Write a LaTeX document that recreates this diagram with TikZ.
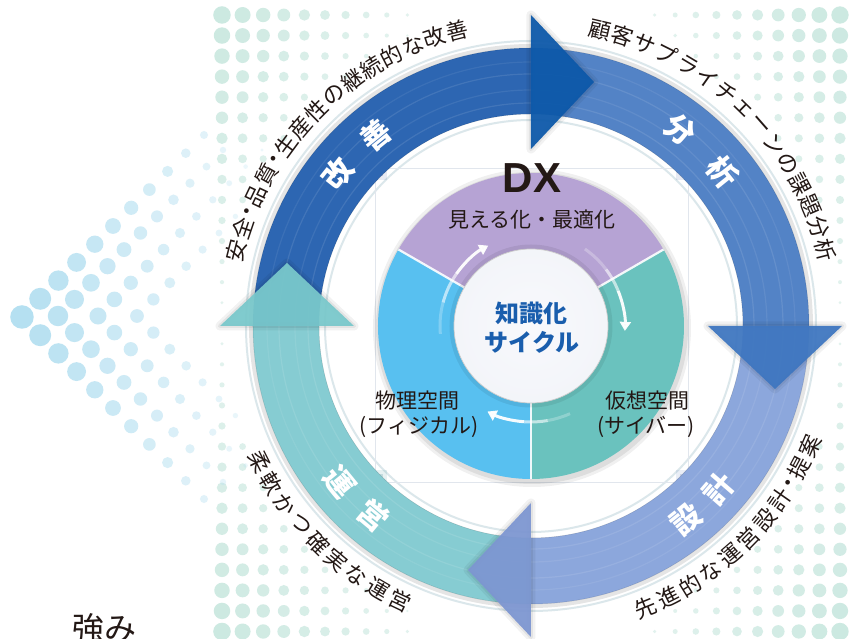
\documentclass[tikz,border=0pt]{standalone}
\usepackage{fontspec}
\newfontfamily\jp{Noto Sans CJK JP}
\newfontfamily\lat{Liberation Sans}
\usetikzlibrary{arrows.meta,calc}

\definecolor{txt}{HTML}{231815}
\definecolor{cblue}{HTML}{1A5EAD}
\definecolor{mint}{HTML}{CCE9E1}
\definecolor{sky}{HTML}{B5E0F1}
\definecolor{headA}{HTML}{0C58A9}
\definecolor{headB}{HTML}{3E76C0}
\definecolor{headC}{HTML}{7D96D1}
\definecolor{headD}{HTML}{79C8CB}
\definecolor{navyA}{HTML}{1A3A8A}
\definecolor{tealD}{HTML}{1B7C84}
\definecolor{blueD}{HTML}{3A5FB0}
\definecolor{framec}{HTML}{E1E6ED}

\pgfdeclareradialshading{kaizenR}{\pgfpointorigin}{color(0bp)=(rgb,255:red,45;green,102;blue,178); color(38.13bp)=(rgb,255:red,45;green,102;blue,178); color(39.5bp)=(rgb,255:red,60;green,118;blue,190); color(41bp)=(rgb,255:red,82;green,134;blue,200); color(42bp)=(rgb,255:red,74;green,128;blue,196); color(43.5bp)=(rgb,255:red,101;green,150;blue,208); color(45bp)=(rgb,255:red,92;green,143;blue,204); color(46.5bp)=(rgb,255:red,74;green,127;blue,195); color(48.5bp)=(rgb,255:red,46;green,102;blue,177); color(50bp)=(rgb,255:red,27;green,86;blue,164)}
\pgfdeclareradialshading{bunsekiR}{\pgfpointorigin}{color(0bp)=(rgb,255:red,83;green,131;blue,198); color(38.13bp)=(rgb,255:red,83;green,131;blue,198); color(39.5bp)=(rgb,255:red,106;green,147;blue,207); color(41bp)=(rgb,255:red,127;green,163;blue,215); color(42bp)=(rgb,255:red,116;green,156;blue,211); color(43.5bp)=(rgb,255:red,142;green,176;blue,221); color(45bp)=(rgb,255:red,134;green,170;blue,218); color(46.5bp)=(rgb,255:red,110;green,150;blue,208); color(48.5bp)=(rgb,255:red,79;green,128;blue,196); color(50bp)=(rgb,255:red,58;green,109;blue,183)}
\pgfdeclareradialshading{sekkeiR}{\pgfpointorigin}{color(0bp)=(rgb,255:red,140;green,167;blue,220); color(38.13bp)=(rgb,255:red,140;green,167;blue,220); color(39.5bp)=(rgb,255:red,161;green,183;blue,228); color(41bp)=(rgb,255:red,178;green,196;blue,234); color(42bp)=(rgb,255:red,169;green,189;blue,231); color(43.5bp)=(rgb,255:red,186;green,203;blue,236); color(45bp)=(rgb,255:red,176;green,195;blue,233); color(46.5bp)=(rgb,255:red,157;green,180;blue,226); color(48.5bp)=(rgb,255:red,132;green,160;blue,216); color(50bp)=(rgb,255:red,110;green,143;blue,206)}
\pgfdeclareradialshading{uneiR}{\pgfpointorigin}{color(0bp)=(rgb,255:red,134;green,204;blue,210); color(38.13bp)=(rgb,255:red,134;green,204;blue,210); color(39.5bp)=(rgb,255:red,150;green,211;blue,216); color(41bp)=(rgb,255:red,163;green,217;blue,221); color(42bp)=(rgb,255:red,156;green,214;blue,218); color(43.5bp)=(rgb,255:red,170;green,220;blue,224); color(45bp)=(rgb,255:red,162;green,216;blue,220); color(46.5bp)=(rgb,255:red,146;green,208;blue,213); color(48.5bp)=(rgb,255:red,122;green,197;blue,204); color(50bp)=(rgb,255:red,98;green,184;blue,193)}
\pgfdeclareradialshading{purpleR}{\pgfpointorigin}{color(0bp)=(rgb,255:red,182;green,163;blue,212); color(25bp)=(rgb,255:red,182;green,163;blue,212); color(38bp)=(rgb,255:red,166;green,145;blue,200); color(46bp)=(rgb,255:red,150;green,129;blue,190); color(50bp)=(rgb,255:red,134;green,115;blue,180)}
\pgfdeclareradialshading{tealR}{\pgfpointorigin}{color(0bp)=(rgb,255:red,106;green,194;blue,190); color(25bp)=(rgb,255:red,106;green,194;blue,190); color(38bp)=(rgb,255:red,90;green,183;blue,181); color(46bp)=(rgb,255:red,72;green,167;blue,172); color(50bp)=(rgb,255:red,56;green,150;blue,162)}
\pgfdeclareradialshading{blueR}{\pgfpointorigin}{color(0bp)=(rgb,255:red,88;green,192;blue,240); color(25bp)=(rgb,255:red,88;green,192;blue,240); color(38bp)=(rgb,255:red,74;green,179;blue,234); color(46bp)=(rgb,255:red,57;green,160;blue,224); color(50bp)=(rgb,255:red,43;green,139;blue,212)}
\pgfdeclareradialshading{centerR}{\pgfpointorigin}{color(0bp)=(rgb,255:red,248;green,249;blue,252); color(35bp)=(rgb,255:red,241;green,243;blue,248); color(45bp)=(rgb,255:red,230;green,233;blue,241); color(50bp)=(rgb,255:red,211;green,216;blue,227)}
\pgfdeclareradialshading{innerW}{\pgfpointorigin}{color(0bp)=(white); color(42bp)=(white); color(48bp)=(rgb,255:red,238;green,242;blue,244); color(50bp)=(rgb,255:red,226;green,232;blue,236)}

\newcommand\ArcText[5]{%
  \xdef\ArcCur{#2}%
  \foreach \ArcCh/\ArcW [count=\ArcI] in {#5}{%
    \pgfmathsetmacro\ArcA{\ArcCur + (#3)*\ArcW/2}%
    \pgfmathsetmacro\ArcB{\ArcCur + (#3)*\ArcW}%
    \node[outertext, rotate=\ArcA+(#4)] (#1\ArcI) at (\ArcA:304) {\ArcCh};%
    \xdef\ArcCur{\ArcB}%
  }%
}

\begin{document}
\begin{tikzpicture}[x=1pt,y=1pt,
  outertext/.style={font=\jp\fontsize{22}{24}\selectfont, text=txt, inner sep=0pt},
  ringlabel/.style={font=\jp\bfseries\fontsize{30}{32}\selectfont, text=white, inner sep=0pt},
  disktext/.style={font=\jp\fontsize{21}{24}\selectfont, text=txt, inner sep=0pt},
  centertext/.style={font=\jp\bfseries\fontsize{24}{26}\selectfont, text=cblue, inner sep=0pt},
  cyclearrow/.style={white, line width=3pt},
  headtip/.style={-{Triangle[length=9pt,width=11pt]}},
]
\useasboundingbox (-531,-313) rectangle (324,326);
\clip (-531,-313) rectangle (324,326);
\fill[white] (-531,-313) rectangle (324,326);

% ---- mint halftone corners
\foreach \gi in {0,...,30}{
  \foreach \gj in {0,...,30}{
    \pgfmathsetmacro\px{222+20.6*\gi}
    \pgfmathsetmacro\py{15+20.55*\gj}
    \pgfmathsetmacro\ddx{min(\px-222, 842-\px)}
    \pgfmathsetmacro\ddy{min(\py-15, 631-\py)}
    \pgfmathsetmacro\sz{17.5-0.075*\ddx-0.05*\ddy}
    \pgfmathsetmacro\rr{veclen(\px-531,\py-326)}
    \pgfmathtruncatemacro\ok{((\sz>2.5)&&(\rr>308))?1:0}
    \ifnum\ok=1
      \pgfmathsetmacro\op{0.45+0.55*\sz/17.5}
      \fill[mint, fill opacity=\op] (\px-531,326-\py) circle[radius=\sz/2];
    \fi
  }
}
% ---- sky chevron
\foreach \cSx/\cSy/\cDx/\cDy in {22/317/18.2/18.2, 58/316/16.5/16.6, 98/316/16.4/16.6, 137/316/16.4/16.6}{
  \foreach \cK in {0,...,10}{
    \foreach \cS in {1,-1}{
      \pgfmathsetmacro\px{\cSx+\cK*\cDx}
      \pgfmathsetmacro\py{\cSy+\cS*\cK*\cDy}
      \pgfmathsetmacro\sz{max(23.5-0.085*(\px-22),3)}
      \pgfmathsetmacro\op{max(1-(\px-22)/300,0.25)}
      \pgfmathsetmacro\rr{veclen(\px-531,\py-326)}
      \pgfmathtruncatemacro\ok{((\rr>308)&&((\cK>0)||(\cS>0)))?1:0}
      \ifnum\ok=1
        \fill[sky, fill opacity=\op] (\px-531,326-\py) circle[radius=\sz/2];
      \fi
    }
  }
}

% ---- halo around ring
\fill[white] (0,0) circle[radius=298];
\draw[black, opacity=0.10, line width=4pt] (0,0) circle[radius=280];
\draw[cyan!30!gray!30, opacity=0.8, line width=2pt] (0,0) circle[radius=285];
\shade[shading=innerW] (0,0) circle[radius=212];
\draw[cyan!30!gray!30, opacity=0.8, line width=2pt] (0,0) circle[radius=206];

% ---- square frame
\draw[framec, line width=0.7pt] (-156,158) rectangle (157,-156);
\foreach \qx/\qy/\qsx/\qsy/\qc in {-156/158/1/-1/navyA, 157/158/-1/-1/navyA, -156/-156/1/1/tealD, 157/-156/-1/1/blueD}{
  \foreach \qs/\qo in {12/0.10, 8/0.18, 4/0.3}{
    \fill[\qc, opacity=\qo] (\qx,\qy) rectangle ++(\qsx*\qs, \qsy*\qs);
  }
}

% ---- DX disk
\fill[black, opacity=0.06] (1,-2) circle[radius=159];
\fill[black, opacity=0.08] (1,-2) circle[radius=156];
\begin{scope}
  \clip (0,0) -- (30:170) arc[start angle=30, end angle=150, radius=170] -- cycle;
  \shade[shading=purpleR] (0,0) circle[radius=153];
\end{scope}
\begin{scope}
  \clip (0,0) -- (-90:170) arc[start angle=-90, end angle=30, radius=170] -- cycle;
  \shade[shading=tealR] (0,0) circle[radius=153];
\end{scope}
\begin{scope}
  \clip (0,0) -- (150:170) arc[start angle=150, end angle=270, radius=170] -- cycle;
  \shade[shading=blueR] (0,0) circle[radius=153];
\end{scope}
\foreach \sa in {30,150,270}{
  \draw[white, opacity=0.9, line width=2.2pt] (\sa:70) -- (\sa:153);
}
% cycle arrows
\draw[cyclearrow, opacity=0.25] (185:91) arc[start angle=185, end angle=165, radius=91];
\draw[cyclearrow, opacity=0.6] (165:91) arc[start angle=165, end angle=145, radius=91];
\draw[cyclearrow, opacity=0.95, headtip] (145:91) arc[start angle=145, end angle=118, radius=91];
\draw[cyclearrow, opacity=0.25] (55:94) arc[start angle=55, end angle=37, radius=94];
\draw[cyclearrow, opacity=0.6] (37:94) arc[start angle=37, end angle=22, radius=94];
\draw[cyclearrow, opacity=0.95, headtip] (22:94) arc[start angle=22, end angle=-3, radius=94];
\draw[cyclearrow, opacity=0.25] (294:96) arc[start angle=294, end angle=280, radius=96];
\draw[cyclearrow, opacity=0.6] (280:96) arc[start angle=280, end angle=266, radius=96];
\draw[cyclearrow, opacity=0.95, headtip] (266:96) arc[start angle=266, end angle=243, radius=96];
% center circle
\draw[black, opacity=0.07, line width=5pt] (0,0) circle[radius=79];
\shade[shading=centerR] (0,0) circle[radius=77];
\draw[gray!40, line width=0.7pt] (0,0) circle[radius=77];

\node[font=\lat\bfseries\fontsize{42}{42}\selectfont, text=txt, inner sep=0pt] (dx) at (1,148) {DX};
\node[disktext] (mieru) at (1,106) {見える化・最適化};
\node[disktext] (phys) at (-113,-75) {物理空間};
\node[disktext] (physb) at (-112,-101) {(フィジカル)};
\node[disktext] (virt) at (117,-75) {仮想空間};
\node[disktext] (virtb) at (115,-101) {(サイバー)};
\node[centertext] (chi) at (1,13) {知識化};
\node[centertext] (cyc) at (1,-16) {サイクル};

% ---- ring segments
\begin{scope}
  \clip (180:212) arc[start angle=180, end angle=90, radius=212] -- (90:278) arc[start angle=90, end angle=180, radius=278] -- cycle;
  \shade[shading=kaizenR] (0,0) circle[radius=278];
\end{scope}
\begin{scope}
  \clip (90:212) arc[start angle=90, end angle=0, radius=212] -- (0:278) arc[start angle=0, end angle=90, radius=278] -- cycle;
  \shade[shading=bunsekiR] (0,0) circle[radius=278];
\end{scope}
\begin{scope}
  \clip (0:212) arc[start angle=0, end angle=-90, radius=212] -- (-90:278) arc[start angle=-90, end angle=0, radius=278] -- cycle;
  \shade[shading=sekkeiR] (0,0) circle[radius=278];
\end{scope}
\begin{scope}
  \clip (-90:212) arc[start angle=-90, end angle=-180, radius=212] -- (-180:278) arc[start angle=-180, end angle=-90, radius=278] -- cycle;
  \shade[shading=uneiR] (0,0) circle[radius=278];
\end{scope}
\foreach \br/\bo in {223/0.10, 236/0.08, 252/0.10, 264/0.07}{
  \draw[white, opacity=\bo, line width=1.2pt] (0,0) circle[radius=\br];
}
\draw[black, opacity=0.15, line width=0.5pt] (0,0) circle[radius=278];
\draw[black, opacity=0.15, line width=0.5pt] (0,0) circle[radius=212];

% ---- arrow heads
\foreach \ha/\hc/\hn in {90/headA/hA, 0/headB/hB, -90/headC/hC, 180/headD/hD}{
  \path (\ha:177) coordinate (\hn1) (\ha:311) coordinate (\hn2) ($(\ha:244)+(\ha-90:63)$) coordinate (\hn3);
  \draw[black, opacity=0.05, line width=9pt, line join=round] (\hn1) -- (\hn2) -- (\hn3) -- cycle;
  \draw[black, opacity=0.06, line width=4pt, line join=round] (\hn1) -- (\hn2) -- (\hn3) -- cycle;
  \fill[\hc, opacity=0.94] (\hn1) -- (\hn2) -- (\hn3) -- cycle;
}

% ---- ring labels
\node[ringlabel, rotate=51.7] (kai) at (141.7:246) {改};
\node[ringlabel, rotate=39.2] (zen) at (129.2:246) {善};
\node[ringlabel, rotate=-37.2] (bun) at (52.8:246) {分};
\node[ringlabel, rotate=-51.2] (seki) at (38.8:246) {析};
\node[ringlabel, rotate=38.7] (setsu) at (-51.3:248) {設};
\node[ringlabel, rotate=49.1] (kei) at (-40.9:248) {計};
\node[ringlabel, rotate=309.2] (un) at (219.2:247) {運};
\node[ringlabel, rotate=320.2] (ei) at (230.2:247) {営};

% ---- outer arc texts
\ArcText{tl}{167.85}{-4.4}{-90}{安/1,全/1,・/0.5,品/1,質/1,・/0.5,生/1,産/1,性/1,の/1,継/1,続/1,的/1,な/1,改/1,善/1}
\ArcText{tr}{79.1}{-4.46}{-90}{顧/1,客/1,サ/1,プ/1,ラ/1,イ/1,チ/1,ェ/1,ー/1,ン/1,の/1,課/1,題/1,分/1,析/1}
\ArcText{br}{-70.2}{4.7}{90}{先/1,進/1,的/1,な/1,運/1,営/1,設/1,計/1,・/0.5,提/1,案/1}
\ArcText{bl}{204.2}{4.74}{90}{柔/1,軟/1,か/1,つ/1,確/1,実/1,な/1,運/1,営/1}

\node[font=\jp\fontsize{32}{36}\selectfont, text=txt, inner sep=0pt] (tsuyomi) at (-426.5,-302) {強み};
\end{tikzpicture}
\end{document}
